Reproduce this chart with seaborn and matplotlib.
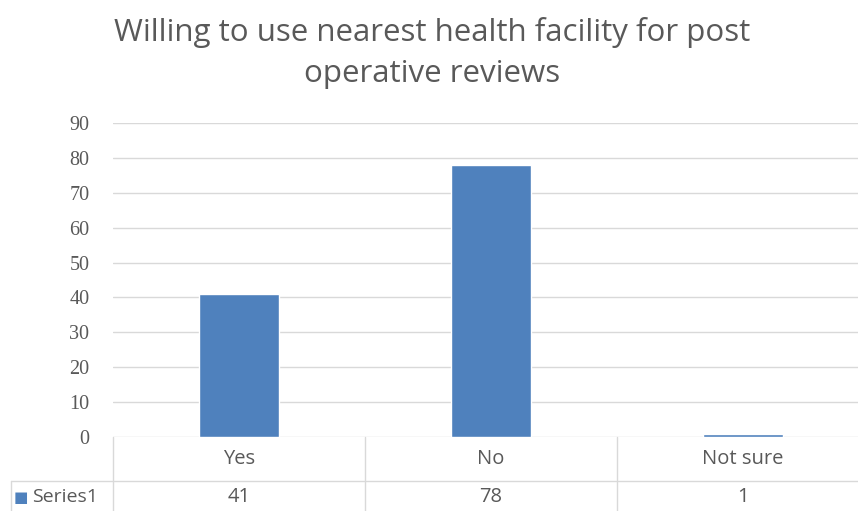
import numpy as np
import pandas as pd
import matplotlib
matplotlib.use("Agg")
import matplotlib.pyplot as plt
import matplotlib.transforms as mtransforms
import seaborn as sns

# chart data
categories = ["Yes", "No", "Not sure"]
counts = [41, 78, 1]
series_name = "Series1"
title_text = "Willing to use nearest health facility for post\noperative reviews"
y_ticks = [0, 10, 20, 30, 40, 50, 60, 70, 80, 90]

BAR_COLOR = "#4F81BD"
GRID_COLOR = "#D9D9D9"
TEXT_COLOR = "#595959"

sns.set_theme(style="white")
plt.rcParams["font.family"] = ["Open Sans", "DejaVu Sans"]

W, H = 858, 511
fig = plt.figure(figsize=(W / 100, H / 100), dpi=100)

# plot area in pixel terms: x 113..869, y 123..437 (top-down)
left, right = 113 / W, 869 / W
bottom, top = 1 - 437 / H, 1 - 123 / H
ax = fig.add_axes([left, bottom, right - left, top - bottom])

df = pd.DataFrame({"category": categories, "count": counts})
sns.barplot(data=df, x="category", y="count", color=BAR_COLOR,
            width=0.32, saturation=1, ax=ax, zorder=3)

ax.set_xlim(-0.5, len(categories) - 0.5)
ax.set_ylim(0, 90)
ax.set_yticks(y_ticks)
ax.set_yticklabels([str(t) for t in y_ticks], family="Liberation Serif",
                   fontsize=14.5, color=TEXT_COLOR)
ax.tick_params(axis="y", length=0, pad=17)
ax.set_xticks([])
ax.set_xlabel("")
ax.set_ylabel("")
ax.yaxis.grid(True, color=GRID_COLOR, linewidth=1)
ax.set_axisbelow(True)
for s in ax.spines.values():
    s.set_visible(False)

# data table below the axis
trans = mtransforms.blended_transform_factory(ax.transData, ax.transAxes)
px = 1 / (437 - 123)  # one pixel in axes-fraction units (vertical)
row1_y = -(481 - 437) * px
row2_y = -(511 - 437) * px - 0.05
line_kw = dict(color=GRID_COLOR, linewidth=1, clip_on=False, zorder=1)

# horizontal line between header row and value row
ax.plot([-0.5 - 102 / 252, len(categories) - 0.5], [row1_y, row1_y],
        transform=trans, **line_kw)
# vertical cell borders
for i in range(len(categories) + 1):
    ax.plot([i - 0.5, i - 0.5], [0, row2_y], transform=trans, **line_kw)
ax.plot([-0.5 - 102 / 252] * 2, [row1_y, row2_y], transform=trans, **line_kw)

for i, (cat, val) in enumerate(zip(categories, counts)):
    ax.text(i, -(459 - 437) * px, cat, transform=trans, ha="center",
            va="center", fontsize=14.5, color=TEXT_COLOR)
    ax.text(i, -(497 - 437) * px, str(val), transform=trans, ha="center",
            va="center", fontsize=14.5, color=TEXT_COLOR)

# legend key in the table
ax.text(-0.5 - 99 / 252, -(497 - 437) * px, "\u25A0", transform=trans,
        ha="left", va="center", fontsize=11, color=BAR_COLOR,
        family="DejaVu Sans")
ax.text(-0.5 - 81 / 252, -(497 - 437) * px, series_name, transform=trans,
        ha="left", va="center", fontsize=14, color=TEXT_COLOR)

fig.text(432 / W, 1 - 53 / H, title_text, ha="center", va="center",
         fontsize=22.5, color=TEXT_COLOR, linespacing=1.45)

fig.savefig("out.png", dpi=100, facecolor="white")
